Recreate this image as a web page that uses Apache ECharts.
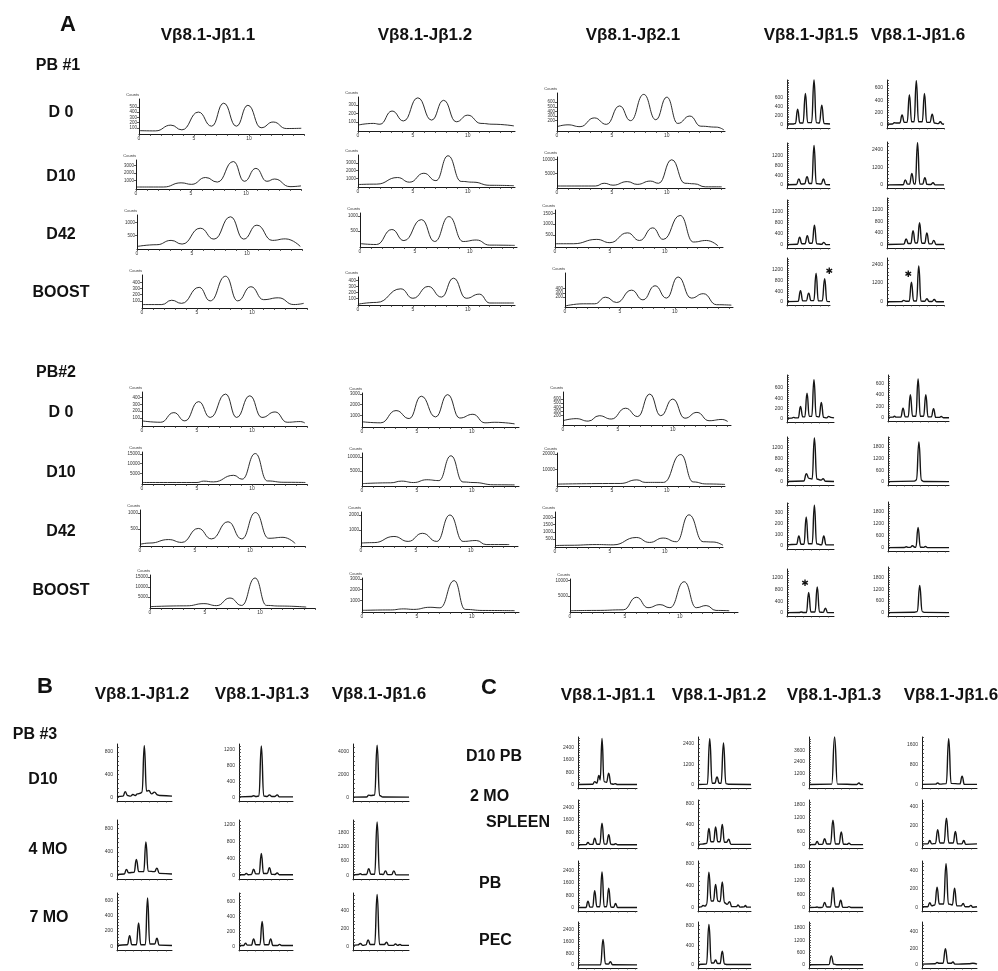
<!DOCTYPE html>
<html>
<head>
<meta charset="utf-8">
<script src="https://cdn.jsdelivr.net/npm/echarts@6/dist/echarts.min.js"></script>
<style>
  html, body { margin: 0; padding: 0; background: #fff; }
  #fig { width: 998px; height: 971px; }
</style>
</head>
<body>
<div id="fig"></div>
<script>
// ---------------- labels ----------------
const colsA = ['Vβ8.1-Jβ1.1', 'Vβ8.1-Jβ1.2', 'Vβ8.1-Jβ2.1', 'Vβ8.1-Jβ1.5', 'Vβ8.1-Jβ1.6'];
const rowsA = ['D 0', 'D10', 'D42', 'BOOST'];
const donorsA = ['PB #1', 'PB#2'];
const colsB = ['Vβ8.1-Jβ1.2', 'Vβ8.1-Jβ1.3', 'Vβ8.1-Jβ1.6'];
const rowsB = ['D10', '4 MO', '7 MO'];
const donorB = 'PB #3';
const colsC = ['Vβ8.1-Jβ1.1', 'Vβ8.1-Jβ1.2', 'Vβ8.1-Jβ1.3', 'Vβ8.1-Jβ1.6'];
const rowsC = ['D10 PB', '2 MO', 'SPLEEN', 'PB', 'PEC'];
const xTickLabels = [0, 5, 10];

// ---------------- spectratype profiles: [size, counts] at peaks and valleys ----------------
// Panel A, PB #1
const pb1_j11 = [
  [[0,45],[1.5,40],[2.9,150],[3.9,60],[5.4,400],[6.6,130],[7.7,570],[8.85,130],[9.9,530],[11.1,100],[12.2,210],[13.4,85],[14.75,90]],
  [[0,150],[2.5,150],[4.1,700],[5.06,500],[6.33,1400],[7.4,800],[8.85,3500],[9.85,900],[10.9,2600],[11.9,900],[12.6,1200],[14,200],[15,300]],
  [[0,60],[1.8,130],[3.1,300],[4.1,155],[5.75,780],[7,350],[8.5,1230],[9.7,350],[10.9,900],[12.3,300],[13.5,360],[14.85,60]],
  [[0,40],[1.8,40],[2.7,110],[3.6,60],[5.2,320],[6.2,100],[7.6,500],[8.7,100],[9.9,330],[11.05,120],[12.4,150],[13.8,40],[14.7,60]]
];
const pb1_j11_max = [650, 3700, 1300, 520];
const pb1_j11_ticks = [[100,200,300,400,500],[1000,2000,3000],[500,1000],[100,200,300,400]];

const pb1_j12 = [
  [[0,60],[1.4,80],[2,70],[3.1,230],[4.15,110],[5.45,390],[6.7,120],[7.8,360],[8.95,100],[10,180],[11.2,80],[12.3,70],[14.2,50]],
  [[0,200],[1.7,250],[3.6,1100],[4.7,500],[6,1650],[7.1,700],[8.2,3900],[9.4,600],[10.5,500],[12,100],[14.2,50]],
  [[0,80],[1.5,50],[2.9,550],[4,180],[5.6,880],[6.8,150],[8.1,980],[9.4,150],[10.6,200],[11.8,30],[14.1,20]],
  [[0,0],[1.7,30],[3.9,260],[5,100],[6.4,300],[7.6,120],[8.7,440],[9.85,100],[11.05,170],[12,20],[14.2,20]]
];
const pb1_j12_max = [400, 4000, 1100, 460];
const pb1_j12_ticks = [[100,200,300],[1000,2000,3000],[500,1000],[100,200,300,400]];

const pb1_j21 = [
  [[0,70],[1,110],[2.1,70],[3.4,260],[4.5,120],[5.7,520],[6.7,200],[7.9,770],[9,220],[10,710],[11,140],[12.1,300],[13.1,80],[14.5,60],[15.2,0]],
  [[0,400],[3.5,400],[4.3,1400],[5.1,700],[6.4,2000],[7.3,1000],[8.5,2200],[9.25,1400],[10.45,10000],[11.65,1400],[12.5,1200],[13.5,100],[15,100]],
  [[0,100],[1.67,100],[3.8,300],[5,150],[6.6,600],[7.7,250],[8.9,830],[9.85,300],[11.4,1400],[12.6,180],[13.8,250],[14.85,0]],
  [[0,0],[1.67,50],[2.7,50],[3.7,200],[4.7,80],[6.06,360],[7.1,140],[8.2,460],[9.24,180],[10.3,660],[11.5,180],[12.6,280],[13.8,30],[15.15,20]]
];
const pb1_j21_max = [800, 11000, 1650, 750];
const pb1_j21_ticks = [[100,200,300,400,500,600,700],[5000,10000],[500,1000,1500],[100,200,300,400,500]];

const pb1_j15 = [
  [[0,20],[1.6,20],[2.05,30],[2.6,350],[3.15,40],[3.9,40],[4.5,700],[5.05,50],[6.0,50],[6.6,1000],[7.15,50],[7.9,40],[8.5,440],[9.05,30],[10.5,20]],
  [[0,10],[2.3,20],[2.9,250],[3.45,40],[4.3,50],[4.9,340],[5.45,60],[6.05,60],[6.6,1600],[7.15,60],[8.35,40],[8.9,250],[9.45,20],[10.5,10]],
  [[0,10],[2.5,20],[3.1,270],[3.65,40],[4.4,40],[4.95,330],[5.5,60],[6.15,60],[6.7,700],[7.25,40],[8.45,20],[9,90],[9.55,10],[10.5,10]],
  [[0,10],[2.7,20],[3.3,420],[3.85,40],[4.7,40],[5.3,330],[5.85,50],[6.55,50],[7.1,1080],[7.65,40],[8.6,40],[9.2,870],[9.75,20],[10.5,10]]
];
const pb1_j15_max = [1000, 1700, 1600, 1650];
const pb1_j15_ticks = [[0,200,400,600],[0,400,800,1200],[0,400,800,1200],[0,400,800,1200]];
const pb1_j15_star = [10.3, 1150];

const pb1_j16 = [
  [[0,10],[1.3,15],[1.8,35],[2.3,30],[3.15,30],[3.7,160],[4.25,40],[4.95,40],[5.5,490],[6.05,50],[6.65,50],[7.2,720],[7.75,50],[8.65,50],[9.2,510],[9.75,40],[10.55,40],[11.1,175],[11.65,30],[12.6,20],[13.1,50],[13.6,15],[14,10]],
  [[0,10],[3.95,20],[4.5,350],[5.05,60],[5.55,60],[6.1,800],[6.65,70],[6.95,70],[7.5,2900],[8.05,60],[8.75,60],[9.3,500],[9.85,40],[10.75,30],[11.3,150],[11.85,10],[14,10]],
  [[0,10],[4.15,20],[4.7,200],[5.25,40],[5.85,40],[6.4,480],[6.95,60],[7.45,60],[8,750],[8.55,50],[9.25,50],[9.8,400],[10.35,30],[10.95,30],[11.5,150],[12.05,10],[14,10]],
  [[0,10],[3.55,20],[4.1,100],[4.65,40],[5.45,40],[6,1250],[6.55,60],[7.25,60],[7.8,2300],[8.35,50],[9.25,40],[9.8,200],[10.35,30],[11.05,30],[11.6,150],[12.15,10],[14,10]]
];
const pb1_j16_max = [730, 2950, 1600, 2800];
const pb1_j16_ticks = [[0,200,400,600],[0,1200,2400],[0,400,800,1200],[0,1200,2400]];
const pb1_j16_star = [5.2, 1720];

// Panel A, PB#2
const pb2_j11 = [
  [[0,60],[1.7,40],[2.9,180],[3.9,60],[5.15,340],[6.2,110],[7.6,450],[8.6,110],[9.8,425],[10.9,110],[12.1,190],[13.2,40],[14.4,50],[14.8,30]],
  [[0,300],[5,300],[5.6,1000],[6.5,600],[8.33,4000],[9.1,2000],[10.3,15200],[11.4,1100],[12.9,400],[14.85,300]],
  [[0,20],[0.9,60],[2.6,170],[3.8,80],[5.3,520],[6.5,190],[8,730],[9.25,190],[10.5,1020],[11.7,210],[13,240],[14.1,50]],
  [[0,200],[3.33,600],[4.9,1700],[6.06,700],[7.27,4500],[8.33,800],[9.55,14500],[10.6,800],[11.8,500],[14.2,0]]
];
const pb2_j11_max = [480, 16000, 1100, 16000];
const pb2_j11_ticks = [[100,200,300,400],[5000,10000,15000],[500,1000],[5000,10000,15000]];

const pb2_j12 = [
  [[0,400],[1.7,300],[3.1,1450],[4.3,700],[5.4,2800],[6.7,850],[7.8,2950],[8.9,750],[10.1,1100],[11.2,300],[12.1,350],[13.9,200]],
  [[0,500],[2.6,800],[3.6,1400],[4.7,900],[5.9,1900],[7,1600],[8.1,10500],[9.2,1100],[10.2,900],[12,100],[13.9,50]],
  [[0,130],[1.2,160],[3,570],[4.3,240],[5.6,780],[6.9,240],[8.1,2000],[9.3,240],[10.5,300],[11.4,30],[13.5,30]],
  [[0,60],[2.6,100],[3.8,200],[4.7,150],[6.2,350],[7.1,300],[8.4,2850],[9.4,150],[11,50],[13.9,30]]
];
const pb2_j12_max = [3100, 11500, 2200, 3100];
const pb2_j12_ticks = [[1000,2000,3000],[5000,10000],[1000,2000],[1000,2000,3000]];

const pb2_j21 = [
  [[0,80],[1.2,130],[2.3,70],[3.3,200],[4.4,120],[5.7,380],[6.8,180],[7.9,720],[8.9,200],[10,600],[11.1,140],[12.2,280],[13.3,80],[14.5,110],[15,60]],
  [[0,600],[5.75,1000],[7.27,3300],[8.03,1700],[9.7,1700],[11.27,19500],[12.4,2000],[13.6,700],[15.3,400]],
  [[0,30],[1.36,50],[3.8,100],[5.3,80],[7.4,600],[8.6,250],[9.85,560],[11.06,300],[12.2,2200],[13.5,300],[14.4,280],[15.3,50]],
  [[0,100],[2.4,200],[4.85,400],[6.05,4500],[7.1,1100],[8.2,2100],[9.1,1100],[10.4,9600],[11.5,1100],[12.4,1800],[13.3,200],[14.5,100]]
];
const pb2_j21_max = [770, 20500, 2400, 10500];
const pb2_j21_ticks = [[100,200,300,400,500,600,700],[10000,20000],[500,1000,1500,2000],[5000,10000]];

const pb2_j15 = [
  [[0,10],[1.1,15],[1.6,30],[2.1,20],[2.75,20],[3.3,240],[3.85,40],[4.35,40],[4.9,500],[5.45,50],[6.05,50],[6.6,760],[7.15,50],[7.85,40],[8.4,320],[8.95,30],[9.7,20],[10.2,50],[10.7,30],[11.5,20]],
  [[0,10],[4.1,30],[4.75,280],[5.35,120],[6.15,100],[6.7,1520],[7.3,100],[8.35,60],[8.85,110],[9.4,20],[11.5,10]],
  [[0,10],[2.35,15],[2.9,90],[3.45,15],[4.15,15],[4.7,260],[5.25,20],[6.15,20],[6.7,365],[7.25,20],[8.45,10],[9,90],[9.55,10],[11.5,10]],
  [[0,10],[2.95,15],[3.5,30],[4.05,15],[4.75,15],[5.3,700],[5.85,30],[6.85,30],[7.4,890],[7.95,30],[8.85,20],[9.4,160],[9.95,10],[11.5,10]]
];
const pb2_j15_max = [850, 1550, 385, 1500];
const pb2_j15_ticks = [[0,200,400,600],[0,400,800,1200],[0,100,200,300],[0,400,800,1200]];
const pb2_j15_star = [4.4, 1000];

const pb2_j16 = [
  [[0,10],[1.2,15],[1.6,30],[2.0,15],[3.15,15],[3.7,170],[4.25,20],[4.95,20],[5.5,400],[6.05,30],[6.85,30],[7.4,670],[7.95,30],[8.75,30],[9.3,400],[9.85,20],[10.65,20],[11.2,160],[11.75,10],[12.6,10],[13.1,25],[13.6,5],[15,5]],
  [[0,10],[6.5,40],[7.0,100],[7.6,2050],[8.2,80],[8.8,20],[15,10]],
  [[0,10],[4.0,15],[4.5,50],[5.0,20],[5.45,20],[6,100],[6.6,30],[6.85,30],[7.4,1000],[7.95,30],[8.7,20],[9.2,60],[9.7,10],[15,10]],
  [[0,10],[6.5,30],[7.2,60],[7.8,1400],[8.4,60],[9,20],[15,10]]
];
const pb2_j16_max = [740, 2300, 2250, 2350];
const pb2_j16_ticks = [[0,200,400,600],[0,600,1200,1800],[0,600,1200,1800],[0,600,1200,1800]];

// Panel B, PB #3
const b_j12 = [
  [[0,10],[1.5,20],[2,100],[2.6,30],[3.3,20],[3.9,50],[4.5,30],[5.0,60],[5.7,70],[6.15,90],[6.7,910],[7.25,110],[7.8,120],[8.5,60],[9.2,90],[10.0,40],[10.7,30],[13.5,20]],
  [[0,10],[1.8,20],[2.3,100],[2.85,40],[4.2,50],[4.75,270],[5.35,60],[6.55,60],[7.1,570],[7.65,70],[9.2,60],[9.8,120],[10.4,30],[13.5,20]],
  [[0,10],[2.55,20],[3.1,140],[3.65,20],[4.75,20],[5.3,305],[5.85,20],[6.95,20],[7.5,635],[8.05,30],[9.25,30],[9.8,105],[10.35,15],[13.5,10]]
];
const b_j12_max = [940, 950, 700];
const b_j12_ticks = [[0,400,800],[0,400,800],[0,200,400,600]];

const b_j13 = [
  [[0,10],[3,20],[3.6,40],[4.2,20],[4.9,30],[5.5,1290],[6.1,30],[6.95,20],[7.5,60],[8.05,20],[8.85,20],[9.4,60],[9.95,10],[13.3,10]],
  [[0,10],[1.3,10],[1.8,40],[2.3,10],[3.05,15],[3.6,140],[4.15,30],[4.95,30],[5.5,520],[6.05,40],[6.95,40],[7.5,180],[8.05,20],[8.85,15],[9.4,50],[9.95,10],[13.3,10]],
  [[0,10],[1.1,10],[1.6,40],[2.1,15],[3.05,15],[3.6,100],[4.15,20],[5.15,20],[5.7,335],[6.25,20],[7.25,20],[7.8,100],[8.35,10],[9.5,10],[10,25],[10.5,10],[13.3,10]]
];
const b_j13_max = [1340, 1320, 720];
const b_j13_ticks = [[0,400,800,1200],[0,400,800,1200],[0,200,400,600]];

const b_j16 = [
  [[0,10],[3.3,30],[3.85,190],[4.4,150],[5.3,200],[5.9,4600],[6.5,150],[7.3,20],[13.7,10]],
  [[0,10],[1.3,30],[1.8,60],[2.3,20],[3.3,30],[3.85,270],[4.4,40],[5.3,40],[5.9,2250],[6.5,40],[7.4,30],[7.95,180],[8.5,20],[9.45,20],[10,180],[10.55,10],[13.7,10]],
  [[0,10],[1.2,15],[1.8,30],[2.4,10],[3.15,15],[3.7,70],[4.25,20],[5.3,20],[5.9,575],[6.5,20],[7.65,20],[8.2,45],[8.75,10],[9.9,10],[10.4,25],[10.9,10],[11.5,20],[12,10],[13.7,10]]
];
const b_j16_max = [4700, 2330, 590];
const b_j16_ticks = [[0,2000,4000],[0,600,1200,1800],[0,200,400]];

// Panel C
const c_j11 = [
  [[0,10],[3.6,30],[4.1,200],[4.6,100],[5.15,600],[5.45,300],[5.9,3000],[6.4,200],[7.0,150],[7.55,750],[8.1,50],[8.7,30],[9.2,60],[9.7,10],[14.5,10]],
  [[0,10],[1.95,15],[2.45,150],[2.95,30],[3.6,30],[4.1,430],[4.65,40],[5.35,40],[5.9,1400],[6.45,50],[7.0,50],[7.55,650],[8.1,30],[8.75,20],[9.25,70],[9.75,10],[14.5,10]],
  [[0,10],[1.95,15],[2.45,420],[2.95,40],[3.6,40],[4.1,1100],[4.65,60],[5.35,60],[5.9,2300],[6.45,60],[7.0,60],[7.55,1250],[8.1,40],[8.75,30],[9.25,270],[9.75,10],[14.5,10]],
  [[0,10],[5.55,20],[6.15,1750],[6.75,80],[7.45,60],[7.95,220],[8.5,20],[14.5,10]]
];
const c_j11_max = [3100, 2900, 3000, 2950];
const c_j11_ticks = [[0,800,1600,2400],[0,800,1600,2400],[0,800,1600,2400],[0,800,1600,2400]];

const c_j12 = [
  [[0,10],[2.3,30],[2.9,2700],[3.5,80],[4.15,80],[4.7,450],[5.25,80],[5.7,80],[6.3,2450],[6.9,60],[7.5,20],[13.1,10]],
  [[0,10],[1,15],[2.15,30],[2.7,320],[3.2,60],[3.85,60],[4.35,350],[4.9,60],[5.45,60],[6,400],[6.55,50],[7.05,50],[7.6,110],[8.15,10],[13.1,10]],
  [[0,10],[0.8,15],[1.25,40],[1.8,30],[2.15,60],[2.7,640],[3.25,120],[3.8,120],[4.35,420],[4.9,120],[5.45,110],[6,465],[6.55,90],[7.2,60],[7.8,110],[8.35,20],[9.5,20],[9.9,50],[10.4,10],[11.4,15],[11.7,40],[12.1,10],[13.1,10]],
  [[0,10],[2.1,20],[2.7,820],[3.3,40],[3.85,40],[4.35,100],[4.85,30],[5.45,30],[6,280],[6.55,20],[7.2,10],[13.1,10]]
];
const c_j12_max = [2800, 880, 840, 870];
const c_j12_ticks = [[0,1200,2400],[0,400,800],[0,400,800],[0,400,800]];

const c_j13 = [
  [[0,10],[5.6,60],[6.3,5000],[7.0,60],[11.8,20],[12.3,180],[12.8,10],[13.3,10]],
  [[0,10],[1.5,15],[2,150],[2.5,20],[3.3,20],[3.85,280],[4.4,40],[5.3,40],[5.9,1100],[6.5,40],[7.4,40],[7.95,580],[8.5,30],[9.35,20],[9.85,75],[10.35,10],[13.3,10]],
  [[0,10],[1.5,15],[2,30],[2.5,10],[3.3,15],[3.85,230],[4.4,30],[5.3,30],[5.9,900],[6.5,30],[7.25,30],[7.8,330],[8.35,20],[9.35,15],[9.85,50],[10.35,10],[13.3,10]],
  [[0,10],[4.9,20],[5.5,440],[6.1,40],[6.8,10],[13.3,10]]
];
const c_j13_max = [5000, 2000, 2070, 2080];
const c_j13_ticks = [[0,1200,2400,3600],[0,600,1200,1800],[0,600,1200,1800],[0,600,1200,1800]];

const c_j16 = [
  [[0,10],[3.35,20],[3.85,70],[4.35,20],[5.95,40],[6.55,1850],[7.15,50],[9.3,30],[9.85,340],[10.4,10],[13.5,10]],
  [[0,10],[1.4,10],[1.9,45],[2.4,10],[3.3,15],[3.85,160],[4.4,20],[5.4,20],[6,280],[6.6,20],[7.65,20],[8.2,140],[8.75,10],[9.75,10],[10.25,45],[10.75,5],[13.5,10]],
  [[0,10],[1.4,10],[1.9,55],[2.4,20],[3.15,30],[3.7,220],[4.25,40],[5.3,40],[5.9,470],[6.5,40],[7.45,30],[8,210],[8.55,20],[9.6,20],[10.1,45],[10.6,10],[11.5,10],[12,25],[12.5,5],[13.5,10]],
  [[0,10],[3.2,15],[3.7,30],[4.2,20],[5.15,20],[5.75,195],[6.35,20],[7.1,20],[7.6,35],[8.1,10],[11.5,15],[12.5,20],[13.5,10]]
];
const c_j16_max = [1920, 470, 500, 515];
const c_j16_ticks = [[0,800,1600],[0,200,400],[0,200,400],[0,200,400]];

// ---------------- layout of the small plots ----------------
const groups = [
  {curves: pb1_j11, maxes: pb1_j11_max, ticks: pb1_j11_ticks, wide: true, xmax: 15,   width: 165, lefts: [139,136,137,142], rows: [[99,134],[160,189],[215,249],[275,308]]},
  {curves: pb1_j12, maxes: pb1_j12_max, ticks: pb1_j12_ticks, wide: true, xmax: 14.3, width: 157, lefts: [358,358,360,358], rows: [[97,131],[155,187],[213,247],[277,305]]},
  {curves: pb1_j21, maxes: pb1_j21_max, ticks: pb1_j21_ticks, wide: true, xmax: 15.3, width: 168, lefts: [557,557,555,565], rows: [[93,131],[157,188],[210,247],[273,307]]},
  {curves: pb1_j15, maxes: pb1_j15_max, ticks: pb1_j15_ticks, wide: false, xmax: 10.5, width: 43, lefts: [787,787,787,787], rows: [[80,128],[143,188],[200,248],[258,305]], star: [3, pb1_j15_star]},
  {curves: pb1_j16, maxes: pb1_j16_max, ticks: pb1_j16_ticks, wide: false, xmax: 14, width: 57, lefts: [887,887,887,887], rows: [[80,128],[142,188],[198,248],[258,305]], star: [3, pb1_j16_star]},

  {curves: pb2_j11, maxes: pb2_j11_max, ticks: pb2_j11_ticks, wide: true, xmax: 15,   width: 165, lefts: [142,142,140,150], rows: [[392,426],[452,484],[510,546],[575,608]]},
  {curves: pb2_j12, maxes: pb2_j12_max, ticks: pb2_j12_ticks, wide: true, xmax: 14.3, width: 157, lefts: [362,362,361,362], rows: [[393,427],[453,486],[512,546],[578,612]]},
  {curves: pb2_j21, maxes: pb2_j21_max, ticks: pb2_j21_ticks, wide: true, xmax: 15.3, width: 168, lefts: [563,557,555,570], rows: [[392,425],[453,486],[512,547],[579,612]]},
  {curves: pb2_j15, maxes: pb2_j15_max, ticks: pb2_j15_ticks, wide: false, xmax: 11.5, width: 47, lefts: [787,787,787,787], rows: [[375,422],[437,485],[503,549],[569,616]], star: [3, pb2_j15_star]},
  {curves: pb2_j16, maxes: pb2_j16_max, ticks: pb2_j16_ticks, wide: false, xmax: 15, width: 61, lefts: [888,888,888,888], rows: [[375,421],[437,485],[502,551],[567,616]]},

  {curves: b_j12, maxes: b_j12_max, ticks: b_j12_ticks, wide: false, xmax: 13.5, width: 55, lefts: [117,117,117], rows: [[744,801],[820,879],[893,950]]},
  {curves: b_j13, maxes: b_j13_max, ticks: b_j13_ticks, wide: false, xmax: 13.3, width: 54, lefts: [239,239,239], rows: [[744,801],[820,879],[893,950]]},
  {curves: b_j16, maxes: b_j16_max, ticks: b_j16_ticks, wide: false, xmax: 13.7, width: 56, lefts: [353,353,353], rows: [[744,801],[820,879],[893,950]]},

  {curves: c_j11, maxes: c_j11_max, ticks: c_j11_ticks, wide: false, xmax: 14.5, width: 59, lefts: [578,578,578,578], rows: [[737,788],[800,848],[861,911],[922,968]]},
  {curves: c_j12, maxes: c_j12_max, ticks: c_j12_ticks, wide: false, xmax: 13.1, width: 53, lefts: [698,698,698,698], rows: [[737,788],[800,848],[861,911],[922,968]]},
  {curves: c_j13, maxes: c_j13_max, ticks: c_j13_ticks, wide: false, xmax: 13.3, width: 54, lefts: [809,809,809,809], rows: [[737,788],[800,848],[861,911],[922,968]]},
  {curves: c_j16, maxes: c_j16_max, ticks: c_j16_ticks, wide: false, xmax: 13.5, width: 55, lefts: [922,922,922,922], rows: [[737,788],[800,848],[861,911],[922,968]]}
];

// ---------------- option building ----------------
const FONT = '"Liberation Sans", Arial, sans-serif';
const grids = [], xAxes = [], yAxes = [], series = [], texts = [];
const plain = v => String(Math.round(v));

function addPlot(o) {
  const i = grids.length;
  grids.push({left: o.left, top: o.top, width: o.width, height: o.bottom - o.top,
              containLabel: false, outerBoundsMode: 'none'});
  const pad = o.ymax * (o.wide ? 0.03 : 0.07);
  const xt = [];
  for (let v = 0; v <= o.xmax + 1e-9; v += (o.wide ? 1 : 2)) xt.push(v);
  xAxes.push({
    type: 'value', gridIndex: i, min: 0, max: o.xmax,
    axisLine: {show: true, onZero: false, lineStyle: {color: '#1a1a1a', width: 1}},
    axisTick: {show: true, customValues: xt, length: o.wide ? 2 : 1.5, lineStyle: {color: '#333', width: 0.8}},
    axisLabel: {show: o.wide, customValues: xTickLabels, formatter: plain, fontSize: 5, margin: 2,
                color: '#333', fontFamily: FONT},
    splitLine: {show: false}
  });
  let yt = o.ticks;
  if (!o.wide) {
    const st = (o.ticks[1] - o.ticks[0]) / 5;
    yt = [];
    for (let v = 0; v <= o.ymax + 1e-9; v += st) yt.push(v);
  }
  yAxes.push({
    type: 'value', gridIndex: i, min: -pad, max: o.ymax,
    name: o.wide ? 'Counts' : '', nameLocation: 'end', nameGap: 2,
    nameTextStyle: {fontSize: 4, color: '#333', align: 'right', fontFamily: FONT},
    axisLine: {show: true, onZero: false, lineStyle: {color: '#1a1a1a', width: 1}},
    axisTick: {show: true, customValues: yt, inside: !o.wide, length: 2, lineStyle: {color: '#333', width: 0.8}},
    axisLabel: {show: true, customValues: o.ticks, formatter: plain, fontSize: o.wide ? 4.5 : 5,
                margin: o.wide ? 2 : 4, color: '#333', fontFamily: FONT},
    splitLine: {show: false}
  });
  const s = {
    type: 'line', xAxisIndex: i, yAxisIndex: i, data: o.curve,
    smooth: 0.5, smoothMonotone: 'x', showSymbol: false, symbol: 'none', silent: true, clip: false,
    lineStyle: {color: '#151515', width: o.wide ? 0.9 : 1.4}
  };
  if (o.star) {
    s.markPoint = {
      symbol: 'circle', symbolSize: 1, silent: true, itemStyle: {color: 'rgba(0,0,0,0)'},
      label: {show: true, position: 'inside', formatter: '✱', fontSize: 9, color: '#111', fontFamily: 'DejaVu Sans'},
      data: [{coord: o.star}]
    };
  }
  series.push(s);
}

groups.forEach(g => {
  g.curves.forEach((curve, r) => {
    addPlot({
      curve, ymax: g.maxes[r], ticks: g.ticks[r], wide: g.wide, xmax: g.xmax,
      left: g.lefts[r], width: g.width, top: g.rows[r][0], bottom: g.rows[r][1],
      star: (g.star && g.star[0] === r) ? g.star[1] : null
    });
  });
});

function txt(s, x, y, size, align) {
  const a = align || 'center';
  texts.push({type: 'text', x: x, y: y, silent: true,
    style: {text: s, font: 'bold ' + size + 'px ' + FONT, fill: '#111',
            align: a, verticalAlign: 'middle', textAlign: a, textVerticalAlign: 'middle'}});
}

// Panel A
txt('A', 68, 25, 22);
[208, 425, 633, 811, 918].forEach((x, k) => txt(colsA[k], x, 35, 17));
txt(donorsA[0], 58, 66, 16);
[113, 177, 235, 293].forEach((y, k) => txt(rowsA[k], 61, y, 16));
txt(donorsA[1], 56, 373, 16);
[413, 473, 532, 591].forEach((y, k) => txt(rowsA[k], 61, y, 16));

// Panel B
txt('B', 45, 687, 22);
[142, 262, 379].forEach((x, k) => txt(colsB[k], x, 694, 17));
txt(donorB, 35, 735, 16);
[[43, 780], [48, 850], [49, 918]].forEach((p, k) => txt(rowsB[k], p[0], p[1], 16));

// Panel C
txt('C', 489, 688, 22);
[608, 719, 834, 951].forEach((x, k) => txt(colsC[k], x, 695, 17));
[[466, 757], [470, 797], [486, 823], [479, 884], [479, 941]].forEach((p, k) => txt(rowsC[k], p[0], p[1], 16, 'left'));

const chart = echarts.init(document.getElementById('fig'), null, {renderer: 'canvas', width: 998, height: 971});
chart.setOption({
  animation: false,
  backgroundColor: '#ffffff',
  grid: grids,
  xAxis: xAxes,
  yAxis: yAxes,
  series: series,
  graphic: {elements: texts}
});
</script>
</body>
</html>
